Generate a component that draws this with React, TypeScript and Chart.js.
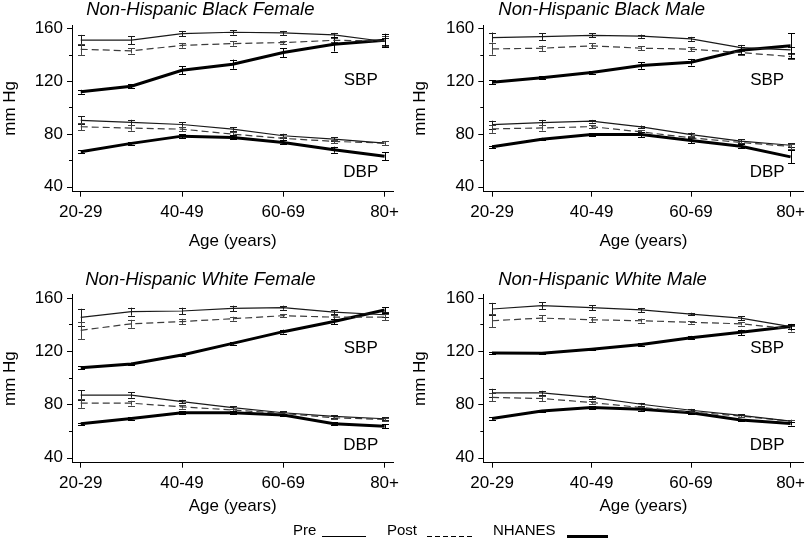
import React, { useEffect, useRef } from 'react';
import { Chart, registerables } from 'chart.js';

Chart.register(...registerables);

const FONT = "'Liberation Sans', Arial, Helvetica, sans-serif";

const ageGroups = ['20-29', '30-39', '40-49', '50-59', '60-69', '70-79', '80+'];
const yTickValues = [40, 60, 80, 100, 120, 140, 160];
const yLabelEvery = 40;

// Non-Hispanic Black Female
const bfPreSbp = [151, 151, 156, 157, 156.5, 155, 150];
const bfPreSbpErr = [4, 3, 2, 1.7, 1.5, 1.5, 3];
const bfPostSbp = [144.1, 142.9, 147.1, 148.4, 149.2, 150.9, 150.4];
const bfPostSbpErr = [4.3, 2, 1.8, 1.6, 1.3, 1.5, 4];
const bfNhanesSbp = [111.9, 116.1, 128.2, 132.8, 141.6, 147.9, 150.9];
const bfNhanesSbpErr = [1.5, 1.5, 3, 3.5, 3.4, 5.5, 5];
const bfPreDbp = [90.2, 88.7, 87.1, 83.6, 78.6, 76.1, 73];
const bfPreDbpErr = [3, 2, 1.8, 1.3, 1.5, 1.5, 1.6];
const bfPostDbp = [85.4, 84.4, 83.6, 79.8, 76.6, 74.3, 73];
const bfPostDbpErr = [2.5, 2, 1.5, 1.3, 1.3, 1.3, 1.5];
const bfNhanesDbp = [66.5, 72.8, 78.3, 77.3, 73.5, 68, 63];
const bfNhanesDbpErr = [1, 1, 1.5, 1.5, 1.5, 2.3, 3];

// Non-Hispanic Black Male
const bmPreSbp = [153, 153.7, 154.7, 154, 152, 145.4, 143.6];
const bmPreSbpErr = [3.8, 2.5, 1.5, 1.2, 1.5, 2, 2];
const bmPostSbp = [144.4, 144.9, 146.7, 144.9, 144.2, 141.6, 138.6];
const bmPostSbpErr = [4.4, 2, 2, 1.5, 1.5, 1.5, 2];
const bmNhanesSbp = [119.2, 122.5, 126.5, 131.8, 134.3, 143.4, 146.7];
const bmNhanesSbpErr = [1.5, 1, 1, 2.5, 2.5, 2.5, 9.5];
const bmPreDbp = [87, 88.6, 89.6, 85.3, 79.5, 74.5, 71.4];
const bmPreDbpErr = [3, 2, 1, 1, 1.5, 1.5, 1.5];
const bmPostDbp = [83.8, 84.5, 85.5, 81.5, 77, 73.5, 70.5];
const bmPostDbpErr = [3, 2, 1.3, 1.3, 1.3, 1.3, 2];
const bmNhanesDbp = [70.2, 76, 79.5, 79.5, 75, 70.7, 62.6];
const bmNhanesDbpErr = [1, 1, 1, 2, 2, 1.5, 5];

// Non-Hispanic White Female
const wfPreSbp = [145.3, 149.6, 150.1, 152.1, 152.6, 149.3, 147.3];
const wfPreSbpErr = [6.5, 3, 2.5, 2, 1.5, 1.5, 2];
const wfPostSbp = [135.6, 140.5, 142.2, 144.3, 146.6, 145.5, 145.5];
const wfPostSbpErr = [6.5, 3, 2, 1.5, 1.3, 1.5, 2.5];
const wfNhanesSbp = [107.5, 110.3, 117.1, 125.8, 134.6, 142.2, 150.9];
const wfNhanesSbpErr = [1, 1, 1, 1, 1.5, 2, 2];
const wfPreDbp = [87, 87, 82.1, 77.6, 73.7, 71, 69.2];
const wfPreDbpErr = [3.5, 2, 1.3, 1, 1, 1, 1];
const wfPostDbp = [80.9, 80.9, 78.1, 75.8, 73.2, 69.9, 68.7];
const wfPostDbpErr = [3.5, 1.8, 1.3, 1, 1, 1, 1];
const wfNhanesDbp = [65.4, 69.4, 73.7, 73.7, 72, 65.4, 63.6];
const wfNhanesDbpErr = [0.8, 0.8, 1, 1, 1, 1, 1.5];

// Non-Hispanic White Male
const wmPreSbp = [151.6, 154.2, 152.6, 150.9, 147.8, 144.8, 138.4];
const wmPreSbpErr = [4.6, 2.5, 2, 1.5, 1, 1.5, 1.5];
const wmPostSbp = [142.8, 144.8, 143.5, 142.8, 141.6, 140.5, 136.7];
const wmPostSbpErr = [5, 2, 2, 1.5, 1, 1.3, 2];
const wmNhanesSbp = [118.6, 118.4, 121.4, 125, 130.1, 134.1, 138.4];
const wmNhanesSbpErr = [0.8, 0.8, 0.8, 1, 1.3, 2, 2];
const wmPreDbp = [88.7, 88.7, 85.2, 80.1, 75.6, 71.7, 67.4];
const wmPreDbpErr = [3, 1.5, 1.3, 1, 1, 1, 1];
const wmPostDbp = [85.2, 84.4, 81.4, 77.6, 74.3, 71.2, 67.4];
const wmPostDbpErr = [3, 1.8, 1, 0.8, 0.8, 0.8, 1];
const wmNhanesDbp = [69.4, 75, 77.6, 76.3, 73.7, 68.2, 65.6];
const wmNhanesDbpErr = [0.8, 0.8, 1, 1, 1, 1, 1.5];

const STYLE_PRE = { borderColor: '#1a1a1a', borderWidth: 1.2, errColor: '#1a1a1a' };
const STYLE_POST = { borderColor: '#3c3c3c', borderWidth: 1.2, borderDash: [7, 4], errColor: '#444' };
const STYLE_NHANES = { borderColor: '#000', borderWidth: 3, errColor: '#000' };

function ds(label: string, values: number[], errs: number[], style: any) {
  return {
    label,
    data: values.map((y, i) => ({ x: i, y })),
    errors: errs,
    ...style,
    pointRadius: 0,
    pointHoverRadius: 0,
    fill: false,
    tension: 0,
  };
}

type PanelDef = {
  title: string;
  left: number;
  top: number;
  width: number;
  height: number;
  yAxisW: number;
  padTop: number;
  padRight: number;
  xAxisH: number;
  xMin: number;
  xMax: number;
  yTitlePad: number;
  xTitlePad: number;
  titleX: number;
  titleY: number;
  sbpY: number;
  dbpY: number;
  series: number[][];
};

const panels: PanelDef[] = [
  {
    title: 'Non-Hispanic Black Female',
    left: 0, top: 0, width: 405, height: 255,
    yAxisW: 72, padTop: 25, padRight: 11.7, xAxisH: 63.3,
    xMin: -0.172, xMax: 6.172, yTitlePad: 0, xTitlePad: 3.5,
    titleX: 200.3, titleY: 10, sbpY: 120.8, dbpY: 51,
    series: [bfPreSbp, bfPreSbpErr, bfPostSbp, bfPostSbpErr, bfNhanesSbp, bfNhanesSbpErr,
      bfPreDbp, bfPreDbpErr, bfPostDbp, bfPostDbpErr, bfNhanesDbp, bfNhanesDbpErr],
  },
  {
    title: 'Non-Hispanic Black Male',
    left: 405, top: 0, width: 405, height: 255,
    yAxisW: 78.3, padTop: 25, padRight: 0, xAxisH: 63.3,
    xMin: -0.177, xMax: 6.26, yTitlePad: 5, xTitlePad: 3.5,
    titleX: 196.7, titleY: 10, sbpY: 120.8, dbpY: 50.6,
    series: [bmPreSbp, bmPreSbpErr, bmPostSbp, bmPostSbpErr, bmNhanesSbp, bmNhanesSbpErr,
      bmPreDbp, bmPreDbpErr, bmPostDbp, bmPostDbpErr, bmNhanesDbp, bmNhanesDbpErr],
  },
  {
    title: 'Non-Hispanic White Female',
    left: 0, top: 270, width: 405, height: 255,
    yAxisW: 72, padTop: 24.5, padRight: 11.7, xAxisH: 62.3,
    xMin: -0.172, xMax: 6.172, yTitlePad: 0, xTitlePad: 8,
    titleX: 200.3, titleY: 10, sbpY: 121.8, dbpY: 49.5,
    series: [wfPreSbp, wfPreSbpErr, wfPostSbp, wfPostSbpErr, wfNhanesSbp, wfNhanesSbpErr,
      wfPreDbp, wfPreDbpErr, wfPostDbp, wfPostDbpErr, wfNhanesDbp, wfNhanesDbpErr],
  },
  {
    title: 'Non-Hispanic White Male',
    left: 405, top: 270, width: 405, height: 255,
    yAxisW: 78.3, padTop: 24.5, padRight: 0, xAxisH: 62.3,
    xMin: -0.177, xMax: 6.26, yTitlePad: 5, xTitlePad: 8,
    titleX: 197.5, titleY: 10, sbpY: 121.8, dbpY: 49.5,
    series: [wmPreSbp, wmPreSbpErr, wmPostSbp, wmPostSbpErr, wmNhanesSbp, wmNhanesSbpErr,
      wmPreDbp, wmPreDbpErr, wmPostDbp, wmPostDbpErr, wmNhanesDbp, wmNhanesDbpErr],
  },
];

const errorBarPlugin = {
  id: 'errorBars',
  beforeDatasetsDraw(chart: any) {
    const ctx = chart.ctx;
    const xs = chart.scales.x;
    const ys = chart.scales.y;
    ctx.save();
    chart.data.datasets.forEach((d: any) => {
      if (!d.errors) return;
      ctx.strokeStyle = d.errColor || '#000';
      ctx.lineWidth = 1;
      ctx.setLineDash([]);
      d.data.forEach((p: any, i: number) => {
        const e = d.errors[i];
        const x = Math.round(xs.getPixelForValue(p.x)) + 0.5;
        const yt = ys.getPixelForValue(p.y + e);
        const yb = ys.getPixelForValue(p.y - e);
        ctx.beginPath();
        ctx.moveTo(x, yt);
        ctx.lineTo(x, yb);
        ctx.moveTo(x - 3.5, Math.round(yt) + 0.5);
        ctx.lineTo(x + 3.5, Math.round(yt) + 0.5);
        ctx.moveTo(x - 3.5, Math.round(yb) + 0.5);
        ctx.lineTo(x + 3.5, Math.round(yb) + 0.5);
        ctx.stroke();
      });
    });
    ctx.restore();
  },
};

const yTickPlugin = {
  id: 'yTicks',
  afterDraw(chart: any) {
    const ctx = chart.ctx;
    const ys = chart.scales.y;
    const left = chart.chartArea.left;
    ctx.save();
    ctx.strokeStyle = '#000';
    ctx.lineWidth = 1;
    ys.ticks.forEach((t: any) => {
      const len = t.value % yLabelEvery === 0 ? 5 : 3;
      const py = Math.round(ys.getPixelForValue(t.value)) + 0.5;
      ctx.beginPath();
      ctx.moveTo(left - len, py);
      ctx.lineTo(left, py);
      ctx.stroke();
    });
    ctx.restore();
  },
};

const panelTextPlugin = {
  id: 'panelText',
  afterDraw(chart: any, _args: any, opts: any) {
    const ctx = chart.ctx;
    ctx.save();
    ctx.fillStyle = '#000';
    ctx.textAlign = 'center';
    ctx.textBaseline = 'middle';
    ctx.font = `italic 18.5px ${FONT}`;
    ctx.fillText(opts.title, opts.titleX, opts.titleY);
    ctx.font = `17px ${FONT}`;
    (opts.labels || []).forEach((l: any) => {
      ctx.fillText(l.text, chart.scales.x.getPixelForValue(l.x), chart.scales.y.getPixelForValue(l.y));
    });
    ctx.restore();
  },
};

function Panel({ def }: { def: PanelDef }) {
  const ref = useRef<HTMLCanvasElement>(null);
  useEffect(() => {
    const s = def.series;
    const tickFont = { family: FONT, size: 17 };
    const chart = new Chart(ref.current as HTMLCanvasElement, {
      type: 'line',
      data: {
        datasets: [
          ds('Pre SBP', s[0], s[1], STYLE_PRE),
          ds('Post SBP', s[2], s[3], STYLE_POST),
          ds('NHANES SBP', s[4], s[5], STYLE_NHANES),
          ds('Pre DBP', s[6], s[7], STYLE_PRE),
          ds('Post DBP', s[8], s[9], STYLE_POST),
          ds('NHANES DBP', s[10], s[11], STYLE_NHANES),
        ] as any,
      },
      options: {
        responsive: false,
        animation: false,
        events: [],
        layout: {
          padding: { top: def.padTop, right: def.padRight, left: 0, bottom: 0 },
          autoPadding: false,
        },
        plugins: {
          legend: { display: false },
          tooltip: { enabled: false },
          title: { display: false },
          panelText: {
            title: def.title,
            titleX: def.titleX,
            titleY: def.titleY,
            labels: [
              { text: 'SBP', x: 5.53, y: def.sbpY },
              { text: 'DBP', x: 5.53, y: def.dbpY },
            ],
          },
        } as any,
        scales: {
          x: {
            type: 'linear',
            min: def.xMin,
            max: def.xMax,
            afterBuildTicks: (sc: any) => {
              sc.ticks = ageGroups.map((_, i) => ({ value: i }));
            },
            afterFit: (sc: any) => {
              sc.height = def.xAxisH;
            },
            ticks: {
              autoSkip: false,
              maxRotation: 0,
              minRotation: 0,
              padding: 5,
              color: '#000',
              font: tickFont,
              callback: (v: any) => (Number(v) % 2 === 0 ? ageGroups[Number(v)] : ''),
            },
            grid: {
              drawOnChartArea: false,
              tickLength: 5,
              tickColor: (c: any) => (c.index % 2 === 0 ? '#000' : 'rgba(0,0,0,0)'),
            },
            border: { display: true, color: '#000', width: 1 },
            title: {
              display: true,
              text: 'Age (years)',
              color: '#000',
              font: tickFont,
              padding: { top: 0, bottom: def.xTitlePad },
            },
          },
          y: {
            min: 36.2,
            max: 162.5,
            afterBuildTicks: (sc: any) => {
              sc.ticks = yTickValues.map((v) => ({ value: v }));
            },
            afterFit: (sc: any) => {
              sc.width = def.yAxisW;
            },
            ticks: {
              padding: 4,
              color: '#000',
              font: tickFont,
              callback: (v: any) => (Number(v) % yLabelEvery === 0 ? String(v) : ''),
            },
            grid: {
              drawOnChartArea: false,
              tickLength: 5,
              tickColor: 'rgba(0,0,0,0)',
            },
            border: { display: true, color: '#000', width: 1 },
            title: {
              display: true,
              text: 'mm Hg',
              color: '#000',
              font: tickFont,
              padding: { top: def.yTitlePad, bottom: 0 },
            },
          },
        },
      } as any,
      plugins: [errorBarPlugin, yTickPlugin, panelTextPlugin],
    });
    return () => chart.destroy();
  }, [def]);
  return (
    <canvas
      ref={ref}
      width={def.width}
      height={def.height}
      style={{ position: 'absolute', left: def.left, top: def.top, width: def.width, height: def.height }}
    />
  );
}

const legendText: React.CSSProperties = {
  position: 'absolute',
  top: 522.3,
  font: `15px ${FONT}`,
  lineHeight: '15px',
  color: '#000',
  whiteSpace: 'nowrap',
};

export default function App() {
  return (
    <div
      style={{
        position: 'fixed',
        left: 0,
        top: 0,
        width: 810,
        height: 538,
        background: '#fff',
        overflow: 'hidden',
        fontFamily: FONT,
      }}
    >
      {panels.map((p) => (
        <Panel key={p.title} def={p} />
      ))}
      <span style={{ ...legendText, left: 293 }}>Pre</span>
      <div style={{ position: 'absolute', left: 322, top: 536, width: 44, height: 1, background: '#000' }} />
      <span style={{ ...legendText, left: 387 }}>Post</span>
      <div
        style={{
          position: 'absolute',
          left: 427,
          top: 536,
          width: 45,
          height: 1,
          background: 'repeating-linear-gradient(to right, #000 0px, #000 5px, transparent 5px, transparent 8px)',
        }}
      />
      <span style={{ ...legendText, left: 493 }}>NHANES</span>
      <div style={{ position: 'absolute', left: 567, top: 535, width: 41, height: 3, background: '#000' }} />
    </div>
  );
}
